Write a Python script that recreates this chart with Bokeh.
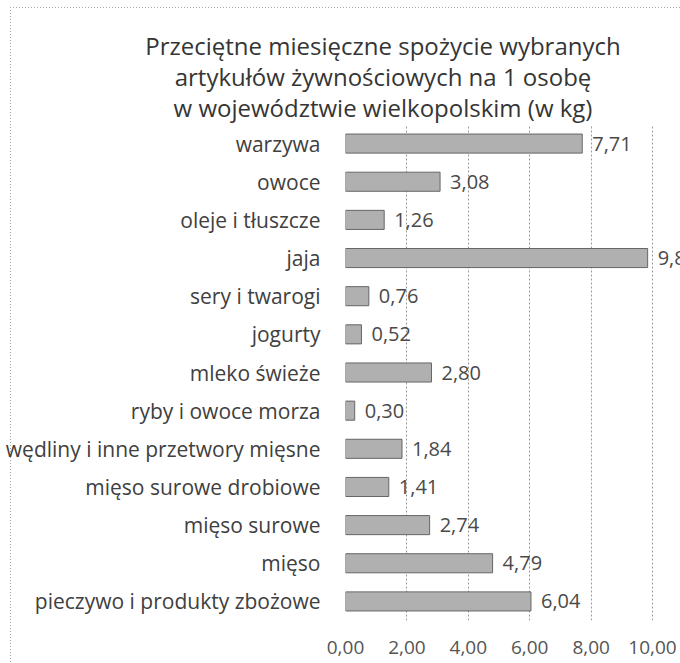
from bokeh.plotting import figure
from bokeh.layouts import column
from bokeh.models import ColumnDataSource, FixedTicker, FactorRange, Range1d, Div
from bokeh.core.properties import value
from bokeh.embed import file_html
from bokeh.resources import INLINE

categories = [
    "warzywa",
    "owoce",
    "oleje i tłuszcze",
    "jaja",
    "sery i twarogi",
    "jogurty",
    "mleko świeże",
    "ryby i owoce morza",
    "wędliny i inne przetwory mięsne",
    "mięso surowe drobiowe",
    "mięso surowe",
    "mięso",
    "pieczywo i produkty zbożowe",
]
values = [7.71, 3.08, 1.26, 9.84, 0.76, 0.52, 2.80, 0.30, 1.84, 1.41, 2.74, 4.79, 6.04]
tick_values = [0, 2, 4, 6, 8, 10]
tick_labels = ["0,00", "2,00", "4,00", "6,00", "8,00", "10,00"]
title_lines = [
    "Przeciętne miesięczne spożycie wybranych",
    "artykułów żywnościowych na 1 osobę",
    "w województwie wielkopolskim (w kg)",
]

FONT = "Open Sans"
CAT_SIZE = "21px"
VAL_SIZE = "20px"
TICK_SIZE = "19px"
TITLE_SIZE = "24px"

src = ColumnDataSource(dict(
    cat=categories,
    val=values,
    txt=[f"{v:.2f}".replace(".", ",") for v in values],
))

W = 680
TITLE_H = 124
H = 663 - TITLE_H
BL, BB = 345, 43

title_div = Div(
    text=(
        f'<div style="width:594px;margin-left:86px;padding-top:30px;'
        f'text-align:center;font-family:\'{FONT}\';font-size:{TITLE_SIZE};'
        f'line-height:31px;color:#353535;white-space:nowrap">'
        + "<br>".join(title_lines) + "</div>"
    ),
    width=W, height=TITLE_H, margin=0,
)

p = figure(
    width=W, height=H,
    y_range=FactorRange(*reversed(categories)),
    x_range=Range1d(0, 10.91),
    output_backend="svg", toolbar_location=None,
    min_border_left=BL, min_border_right=0,
    min_border_top=0, min_border_bottom=BB,
)
p.outline_line_color = None
p.background_fill_color = None
p.border_fill_color = None

p.hbar(y="cat", right="val", left=0, height=0.5, source=src,
       fill_color="#b0b0b0", line_color="#666666", line_width=1)

p.text(x="val", y="cat", text="txt", source=src, x_offset=10,
       text_baseline="middle", text_align="left",
       text_font=value(FONT), text_font_size=VAL_SIZE, text_color="#4a4a4a")

p.xgrid.ticker = FixedTicker(ticks=tick_values)
p.xgrid.grid_line_color = "#999999"
p.xgrid.grid_line_dash = "2 2"
p.ygrid.grid_line_color = None

p.xaxis.ticker = FixedTicker(ticks=tick_values)
p.xaxis.major_label_overrides = {t: l for t, l in zip(tick_values, tick_labels)}
for ax in (p.xaxis, p.yaxis):
    ax.axis_line_color = None
    ax.major_tick_line_color = None
    ax.minor_tick_line_color = None
    ax.major_label_text_font = FONT
    ax.major_label_text_color = "#404040"
p.xaxis.major_label_text_font_size = TICK_SIZE
p.yaxis.major_label_text_font_size = CAT_SIZE
p.xaxis.major_label_standoff = 14
p.xaxis.major_label_text_color = "#555555"
p.yaxis.major_label_standoff = 19

border_css = {
    "background-color": "white",
    "background-image": (
        "repeating-linear-gradient(to right, #a8a8a8 0 1px, transparent 1px 3px), "
        "repeating-linear-gradient(to bottom, #a8a8a8 0 1px, transparent 1px 3px)"
    ),
    "background-size": "calc(100% - 10px) 1px, 1px calc(100% - 7px)",
    "background-position": "10px 7px, 10px 7px",
    "background-repeat": "no-repeat",
}

layout = column(title_div, p, spacing=0, styles=border_css)

open("out.html", "w").write(file_html(layout, INLINE))
